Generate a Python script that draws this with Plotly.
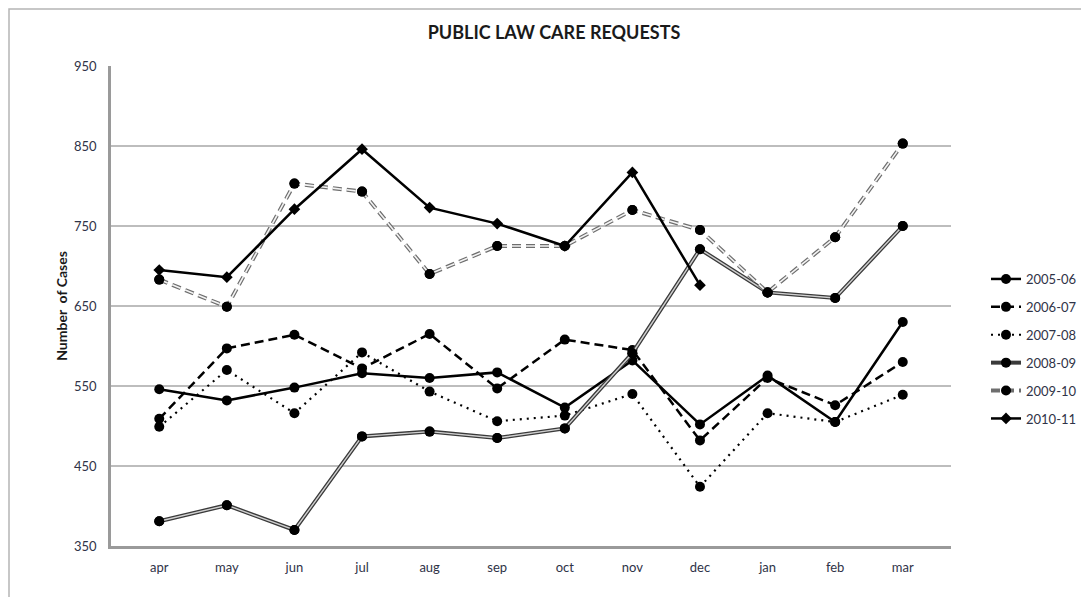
import plotly.graph_objects as go

months = ["apr", "may", "jun", "jul", "aug", "sep", "oct", "nov", "dec", "jan", "feb", "mar"]

s2005_06 = [546, 532, 548, 566, 560, 567, 523, 582, 502, 563, 505, 630]
s2006_07 = [509, 597, 614, 572, 615, 547, 608, 595, 482, 560, 526, 580]
s2007_08 = [499, 570, 516, 592, 543, 506, 513, 540, 424, 516, 505, 539]
s2008_09 = [381, 401, 370, 487, 493, 485, 497, 591, 721, 667, 660, 750]
s2009_10 = [683, 649, 803, 793, 690, 725, 725, 770, 745, 667, 736, 853]
s2010_11 = [695, 686, 771, 846, 773, 753, 725, 817, 676]

y_ticks = [350, 450, 550, 650, 750, 850, 950]

FONT = "Lato"
TXT = "#2f3347"

# page body has an 8px margin: figure origin sits at (8, 8) in the window
OFF = 8
W, H = 1089 - OFF, 597 - OFF
PL, PT, PW, PH = 111 - OFF, 66 - OFF, 840, 480   # plot area in figure px


def px_x(x):  # window px -> paper x
    return (x - OFF - PL) / PW


def px_y(y):  # window px -> paper y
    return (PT + PH - (y - OFF)) / PH


fig = go.Figure()

circle = dict(symbol="circle", size=10, color="black")

fig.add_trace(go.Scatter(x=months, y=s2005_06, name="2005-06", legendgroup="a",
                         mode="lines+markers", line=dict(color="black", width=2.5),
                         marker=circle))
fig.add_trace(go.Scatter(x=months, y=s2006_07, name="2006-07", legendgroup="b",
                         mode="lines+markers",
                         line=dict(color="black", width=2.5, dash="9px,5px"),
                         marker=circle))
fig.add_trace(go.Scatter(x=months, y=s2007_08, name="2007-08", legendgroup="c",
                         mode="lines+markers",
                         line=dict(color="black", width=2.2, dash="2px,5px"),
                         marker=circle))
# 2008-09: double line (dark outline, light centre)
fig.add_trace(go.Scatter(x=months, y=s2008_09, name="2008-09", legendgroup="d",
                         mode="lines+markers", line=dict(color="#3a3a3a", width=4),
                         marker=circle))
fig.add_trace(go.Scatter(x=months, y=s2008_09, name="2008-09", legendgroup="d",
                         showlegend=False, mode="lines", hoverinfo="skip",
                         line=dict(color="#d0d0d0", width=1.4)))
fig.add_trace(go.Scatter(x=months, y=s2008_09, name="2008-09", legendgroup="d",
                         showlegend=False, mode="markers", hoverinfo="skip",
                         marker=circle))
# 2009-10: outlined dashed line
fig.add_trace(go.Scatter(x=months, y=s2009_10, name="2009-10", legendgroup="e",
                         mode="lines+markers",
                         line=dict(color="#6e6e6e", width=4, dash="9px,5px"),
                         marker=circle))
fig.add_trace(go.Scatter(x=months, y=s2009_10, name="2009-10", legendgroup="e",
                         showlegend=False, mode="lines", hoverinfo="skip",
                         line=dict(color="#f4f4f4", width=1.6, dash="9px,5px")))
fig.add_trace(go.Scatter(x=months, y=s2009_10, name="2009-10", legendgroup="e",
                         showlegend=False, mode="markers", hoverinfo="skip",
                         marker=circle))
fig.add_trace(go.Scatter(x=months[:len(s2010_11)], y=s2010_11, name="2010-11",
                         legendgroup="f", mode="lines+markers",
                         line=dict(color="black", width=2.5),
                         marker=dict(symbol="diamond", size=9, color="black")))

# outer chart frame
fig.add_shape(type="rect", xref="paper", yref="paper",
              x0=px_x(9), x1=px_x(1110),
              y0=px_y(620), y1=px_y(9),
              line=dict(color="#b5b5b5", width=1.5), layer="below")

fig.update_layout(
    width=W, height=H,
    margin=dict(l=PL, r=W - PL - PW, t=PT, b=H - PT - PH, autoexpand=False),
    paper_bgcolor="white", plot_bgcolor="white",
    title=dict(text="<b>PUBLIC LAW CARE REQUESTS</b>", x=(554 - OFF) / W, xanchor="center",
               y=1 - (33 - OFF) / H, yanchor="middle",
               font=dict(family=FONT, size=18, color="#1a1a1a")),
    font=dict(family=FONT, size=13, color=TXT),
    showlegend=True,
    legend=dict(x=px_x(986), xanchor="left", y=px_y(264), yanchor="top",
                traceorder="grouped", tracegroupgap=8,
                font=dict(family=FONT, size=13, color=TXT),
                bgcolor="rgba(0,0,0,0)"),
)

fig.update_xaxes(type="category", showgrid=False, showline=True, automargin=False,
                 linecolor="#9a9a9a", linewidth=2.5, ticks="", ticklabelstandoff=8,
                 tickfont=dict(family=FONT, size=13, color=TXT))
fig.update_yaxes(range=[350, 950], tickvals=y_ticks, showgrid=True, automargin=False,
                 gridcolor="#bdbdbd", gridwidth=1.5, showline=True,
                 linecolor="#9a9a9a", linewidth=2.5, ticks="", zeroline=False,
                 ticklabelstandoff=9,
                 tickfont=dict(family=FONT, size=13, color=TXT),
                 title=dict(text="<b>Number  of Cases</b>", standoff=4,
                            font=dict(family=FONT, size=14, color="#1a1a1a")))

fig.write_html("out.html")
